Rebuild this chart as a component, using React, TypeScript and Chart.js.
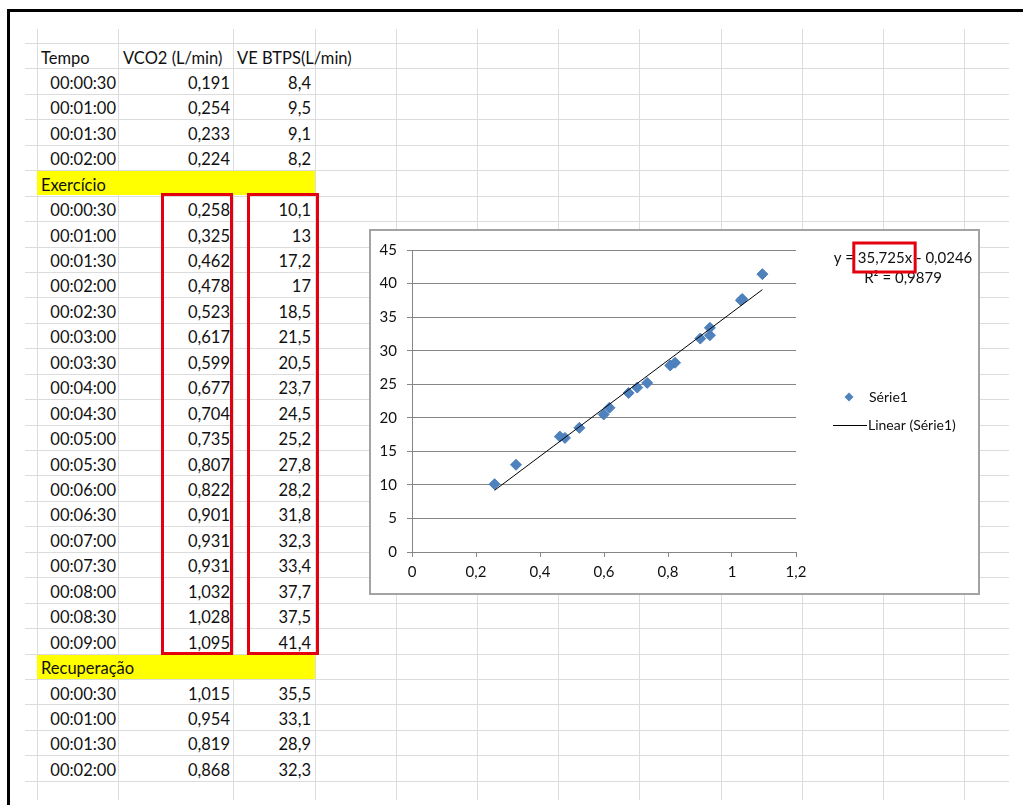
import React, { useEffect, useRef } from "react";
import { Chart, registerables } from "chart.js";

Chart.register(...registerables);

// ---------------- data ----------------
const HEADERS = ["Tempo", "VCO2 (L/min)", "VE BTPS(L/min)"];

const BASE_TIMES = ["00:00:30", "00:01:00", "00:01:30", "00:02:00"];
const BASE_VCO2 = [0.191, 0.254, 0.233, 0.224];
const BASE_VE = [8.4, 9.5, 9.1, 8.2];

const EX_LABEL = "Exercício";
const EX_TIMES = [
  "00:00:30", "00:01:00", "00:01:30", "00:02:00", "00:02:30", "00:03:00",
  "00:03:30", "00:04:00", "00:04:30", "00:05:00", "00:05:30", "00:06:00",
  "00:06:30", "00:07:00", "00:07:30", "00:08:00", "00:08:30", "00:09:00",
];
const EX_VCO2 = [
  0.258, 0.325, 0.462, 0.478, 0.523, 0.617, 0.599, 0.677, 0.704,
  0.735, 0.807, 0.822, 0.901, 0.931, 0.931, 1.032, 1.028, 1.095,
];
const EX_VE = [
  10.1, 13, 17.2, 17, 18.5, 21.5, 20.5, 23.7, 24.5,
  25.2, 27.8, 28.2, 31.8, 32.3, 33.4, 37.7, 37.5, 41.4,
];

const REC_LABEL = "Recuperação";
const REC_TIMES = ["00:00:30", "00:01:00", "00:01:30", "00:02:00"];
const REC_VCO2 = [1.015, 0.954, 0.819, 0.868];
const REC_VE = [35.5, 33.1, 28.9, 32.3];

const SERIES_NAME = "Série1";
const TREND_NAME = "Linear (Série1)";
const TREND_SLOPE = 35.725;
const TREND_INTERCEPT = -0.0246;
const R_SQUARED = 0.9879;

const X_MIN = 0;
const X_MAX = 1.2;
const X_STEP = 0.2;
const Y_MIN = 0;
const Y_MAX = 45;
const Y_STEP = 5;

// ---------------- layout ----------------
const ROW_H = 25.44;
const TOP0 = 43;
const COL_X = [37, 118, 233, 315, 396, 477, 558, 639, 721, 802, 883, 964];
const FONT = "Lato, 'Open Sans', sans-serif";
const TEXT = "#111111";

const fmt = (v: number) => String(v).replace(".", ",");

function ScatterChart() {
  const ref = useRef<HTMLCanvasElement | null>(null);

  useEffect(() => {
    if (!ref.current) return;
    const pts = EX_VCO2.map((x, i) => ({ x, y: EX_VE[i] }));
    const xLo = Math.min(...EX_VCO2);
    const xHi = Math.max(...EX_VCO2);
    const trend = [xLo, xHi].map((x) => ({ x, y: TREND_SLOPE * x + TREND_INTERCEPT }));

    const overlay = {
      id: "excelLegend",
      afterDraw(chart: any) {
        const ctx = chart.ctx as CanvasRenderingContext2D;
        ctx.save();
        ctx.fillStyle = TEXT;
        ctx.textBaseline = "middle";
        ctx.font = "15px " + FONT;
        // trendline equation
        const pre = "y = ";
        const slope = fmt(TREND_SLOPE) + "x";
        const post = " - " + fmt(Math.abs(TREND_INTERCEPT));
        const full = pre + slope + post;
        const w = ctx.measureText(full).width;
        const cx = 532;
        const x0 = cx - w / 2;
        ctx.textAlign = "left";
        ctx.fillText(full, x0, 27);
        ctx.textAlign = "center";
        ctx.fillText("R² = " + fmt(R_SQUARED), cx, 47);
        const preW = ctx.measureText(pre).width;
        const sW = ctx.measureText(slope).width;
        ctx.strokeStyle = "#e3000f";
        ctx.lineWidth = 3;
        ctx.strokeRect(x0 + preW - 4, 12, sW + 7, 29);

        // legend
        ctx.font = "14px " + FONT;
        ctx.textAlign = "left";
        const mx = 478;
        const my = 166;
        const r = 4.5;
        ctx.beginPath();
        ctx.moveTo(mx - r, my);
        ctx.lineTo(mx, my - r);
        ctx.lineTo(mx + r, my);
        ctx.lineTo(mx, my + r);
        ctx.closePath();
        ctx.fillStyle = chart.data.datasets[0].backgroundColor;
        ctx.fill();
        ctx.fillStyle = TEXT;
        ctx.fillText(chart.data.datasets[0].label, 498, my);

        ctx.strokeStyle = chart.data.datasets[1].borderColor;
        ctx.lineWidth = 1;
        ctx.beginPath();
        ctx.moveTo(462, 194.5);
        ctx.lineTo(496, 194.5);
        ctx.stroke();
        ctx.fillText(chart.data.datasets[1].label, 497, 194);
        ctx.restore();
      },
    };

    const tickFont = { family: FONT, size: 15 };
    const chart = new Chart(ref.current, {
      type: "scatter",
      data: {
        datasets: [
          {
            label: SERIES_NAME,
            data: pts,
            pointStyle: "rectRot",
            pointRadius: 5.5,
            backgroundColor: "#4F81BD",
            borderColor: "#4A7EBB",
            borderWidth: 1,
            showLine: false,
            order: 2,
          },
          {
            label: TREND_NAME,
            data: trend,
            showLine: true,
            borderColor: "#000000",
            borderWidth: 1,
            pointRadius: 0,
            order: 1,
          },
        ],
      } as any,
      options: {
        animation: false,
        responsive: false,
        events: [],
        layout: { padding: { top: 16, right: 182, left: 0, bottom: 0 } },
        plugins: { legend: { display: false }, tooltip: { enabled: false } },
        scales: {
          x: {
            type: "linear",
            min: X_MIN,
            max: X_MAX,
            ticks: {
              stepSize: X_STEP,
              color: TEXT,
              font: tickFont,
              padding: 6,
              callback: (v: any) => fmt(Math.round(Number(v) * 10) / 10),
            },
            grid: { drawOnChartArea: false, tickLength: 5, color: "#868686", tickColor: "#868686" },
            border: { color: "#868686" },
            afterFit: (s: any) => {
              s.height = 41;
            },
          },
          y: {
            type: "linear",
            min: Y_MIN,
            max: Y_MAX,
            ticks: { stepSize: Y_STEP, color: TEXT, font: tickFont, padding: 10 },
            grid: { color: "#868686", tickLength: 5 },
            border: { color: "#868686" },
            afterFit: (s: any) => {
              s.width = 41;
            },
          },
        },
      } as any,
      plugins: [overlay],
    });
    return () => chart.destroy();
  }, []);

  return (
    <canvas ref={ref} width={607} height={362} style={{ display: "block", width: 607, height: 362 }} />
  );
}

type Row = { kind: "header" } | { kind: "section"; label: string } | { kind: "data"; t: string; a: number; b: number };

function buildRows(): Row[] {
  const rows: Row[] = [{ kind: "header" }];
  BASE_TIMES.forEach((t, i) => rows.push({ kind: "data", t, a: BASE_VCO2[i], b: BASE_VE[i] }));
  rows.push({ kind: "section", label: EX_LABEL });
  EX_TIMES.forEach((t, i) => rows.push({ kind: "data", t, a: EX_VCO2[i], b: EX_VE[i] }));
  rows.push({ kind: "section", label: REC_LABEL });
  REC_TIMES.forEach((t, i) => rows.push({ kind: "data", t, a: REC_VCO2[i], b: REC_VE[i] }));
  return rows;
}

export default function App() {
  const rows = buildRows();
  const cell = (left: number, width: number, top: number, text: string, align: "left" | "right", pad: number) => (
    <div
      key={`${left}-${top}-${text}`}
      style={{
        position: "absolute",
        left,
        top: top + 2.5,
        width,
        height: ROW_H,
        lineHeight: `${ROW_H}px`,
        textAlign: align,
        paddingLeft: align === "left" ? pad : 0,
        paddingRight: align === "right" ? pad : 0,
        boxSizing: "border-box",
        whiteSpace: "nowrap",
        fontSize: 16.5,
        color: TEXT,
        overflow: "visible",
      }}
    >
      {text}
    </div>
  );

  const hLines = [];
  for (let k = 0; k < 30; k++) {
    hLines.push(
      <div key={"h" + k} style={{ position: "absolute", left: 25, top: Math.round(TOP0 + k * ROW_H), width: 984, height: 1, background: "#dcdcdc" }} />
    );
  }
  const vLines = COL_X.map((x) => (
    <div key={"v" + x} style={{ position: "absolute", left: x, top: 29, width: 1, height: 771, background: "#dcdcdc" }} />
  ));

  const items: any[] = [];
  rows.forEach((r, k) => {
    const top = TOP0 + k * ROW_H;
    if (r.kind === "header") {
      items.push(cell(37, 81, top, HEADERS[0], "left", 4));
      items.push(cell(118, 115, top, HEADERS[1], "left", 5));
      items.push(cell(233, 160, top, HEADERS[2], "left", 4));
    } else if (r.kind === "section") {
      items.push(
        <div key={"y" + k} style={{ position: "absolute", left: 37, top: Math.round(top) + 1, width: 278, height: ROW_H - 1, background: "#ffff00" }} />
      );
      items.push(cell(37, 200, top, r.label, "left", 4));
    } else {
      items.push(cell(37, 81, top, r.t, "right", 2));
      items.push(cell(118, 115, top, fmt(r.a), "right", 3));
      items.push(cell(233, 82, top, fmt(r.b), "right", 4));
    }
  });

  const exStart = 6;
  const exEnd = exStart + EX_TIMES.length;
  const boxTop = TOP0 + exStart * ROW_H - 3;
  const boxH = (exEnd - exStart) * ROW_H + 4;
  const redBox = (left: number, width: number) => (
    <div
      key={"r" + left}
      style={{
        position: "absolute",
        left,
        top: boxTop,
        width,
        height: boxH,
        border: "3px solid #e3000f",
        boxSizing: "border-box",
      }}
    />
  );

  return (
    <div
      style={{
        position: "absolute",
        left: 0,
        top: 0,
        width: 1023,
        height: 805,
        overflow: "hidden",
        background: "#ffffff",
        fontFamily: FONT,
      }}
    >
      {hLines}
      {vLines}
      {items}
      {redBox(161, 72)}
      {redBox(247, 72)}
      <div style={{ position: "absolute", left: 7, top: 9, width: 1030, height: 820, borderTop: "3px solid #000", borderLeft: "3px solid #000", boxSizing: "border-box" }} />
      <div
        style={{
          position: "absolute",
          left: 369,
          top: 229,
          width: 611,
          height: 366,
          boxSizing: "border-box",
          border: "2px solid #a3a3a3",
          background: "#ffffff",
        }}
      >
        <ScatterChart />
      </div>
    </div>
  );
}
